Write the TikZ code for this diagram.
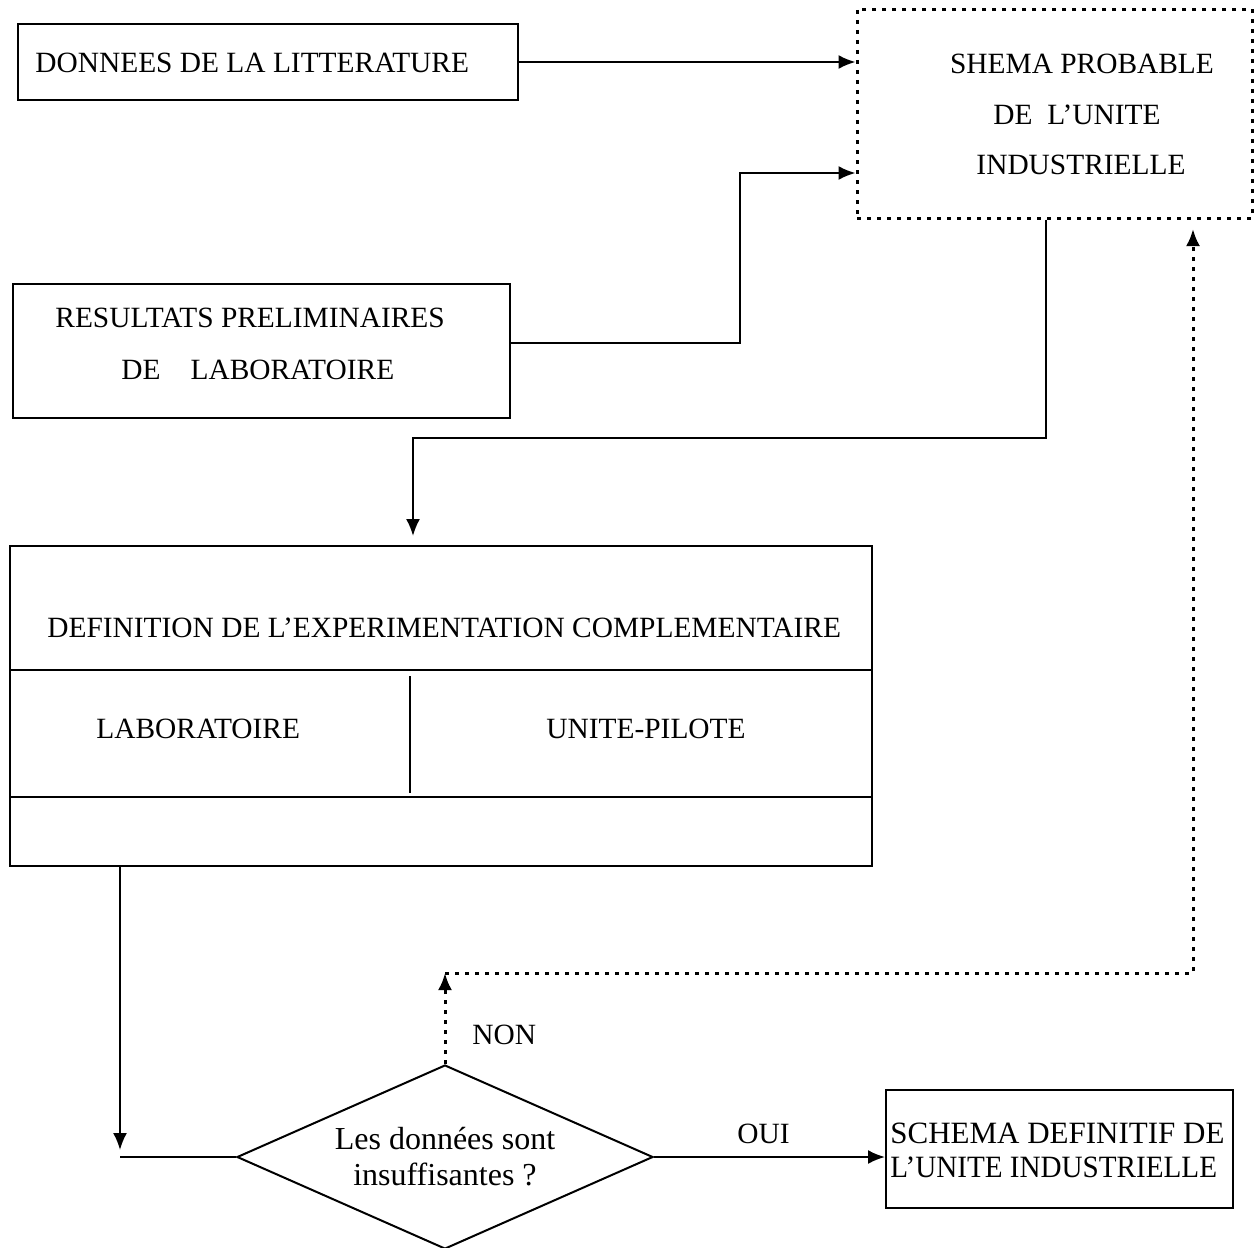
\documentclass[tikz,border=0pt]{standalone}
\usepackage{fontspec}
\setmainfont{Liberation Serif}
\usetikzlibrary{arrows.meta,shapes.geometric}
\begin{document}
\begin{tikzpicture}[x=0.5pt,y=-0.5pt,
  font=\fontsize{14.7}{17}\selectfont,
  box/.style={draw, line width=1pt, inner sep=0pt},
  arr/.style={line width=1pt, -{Latex[length=8.5pt,width=7pt]}},
  plain/.style={line width=1pt},
  dotline/.style={line width=1.5pt, dash pattern=on 1.8pt off 3.2pt},
  dotarr/.style={dotline, -{Latex[length=8.5pt,width=7pt]}},
  lbl/.style={inner sep=0pt, anchor=base west},
  clbl/.style={inner sep=0pt, anchor=base}]
\useasboundingbox (0,0) rectangle (1254,1248);

% boxes
\node[box, minimum width=250pt, minimum height=38pt] (b1) at (268,62) {};
\node[lbl] (t1) at (35,72) {DONNEES DE LA LITTERATURE};

\node[draw, dotline, inner sep=0pt, minimum width=197.5pt, minimum height=104.5pt] (s) at (1054.5,113.5) {};
\node[clbl] (s1) at (1082,73) {SHEMA PROBABLE};
\node[clbl] (s2) at (1077,124) {DE\enspace L'UNITE};
\node[clbl] (s3) at (1081,174) {INDUSTRIELLE};

\node[box, minimum width=248.5pt, minimum height=67pt] (b2) at (261.5,351) {};
\node[lbl] (t2a) at (55,327) {RESULTATS PRELIMINAIRES};
\node[lbl] (t2b) at (121,379) {DE\hspace{15pt}LABORATOIRE};

\node[box, minimum width=431pt, minimum height=160pt] (b3) at (441,706) {};
\draw[plain] (b3.west |- 0,670) -- (b3.east |- 0,670);
\draw[plain] (b3.west |- 0,797) -- (b3.east |- 0,797);
\draw[plain] (410,676) -- (410,793);
\node[lbl] (t3) at (47,637) {DEFINITION DE L'EXPERIMENTATION COMPLEMENTAIRE};
\node[lbl] (t3a) at (96,738) {LABORATOIRE};
\node[lbl] (t3b) at (546,738) {UNITE-PILOTE};

\node[draw, line width=1pt, shape=diamond, aspect=2.26, inner sep=0pt, minimum width=208pt, minimum height=92pt, align=center, font=\fontsize{16}{18}\selectfont] (d) at (445,1157) {Les données sont\\insuffisantes ?};

\node[box, minimum width=173.5pt, minimum height=59pt] (b4) at (1059.5,1149) {};
\node[lbl, font=\fontsize{15.5}{17}\selectfont] (t4a) at (890,1143) {SCHEMA DEFINITIF DE};
\node[lbl, font=\fontsize{15.5}{17}\selectfont] (t4b) at (890,1177) {\scalebox{0.94}[1]{L'UNITE INDUSTRIELLE}};

\node[lbl] (non) at (472,1044) {NON};
\node[lbl] (oui) at (737,1143) {OUI};

% connectors
\draw[arr] (b1.east) -- (b1.east -| s.west);
\coordinate (c1) at (740,173);
\draw[arr] ([yshift=4pt]b2.east) -| (c1) -- (c1 -| s.west);
\coordinate (c2) at (1046,438);
\draw[arr, shorten >=4.5pt] ([xshift=-4.25pt]s.south) -- (c2) -| ([xshift=-14pt]b3.north);
\coordinate (k) at (120,1157);
\draw[arr, shorten >=3.5pt] ([xshift=-160.5pt]b3.south) -- (k);
\draw[plain] (k) -- (d.west);
\draw[arr] (d.east) -- (d.east -| b4.west);
\coordinate (n1) at (445,973);
\coordinate (n2) at (1193,229);
\draw[dotarr] (d.north) -- (n1);
\draw[dotarr] (n1) -| (n2);
\end{tikzpicture}
\end{document}
